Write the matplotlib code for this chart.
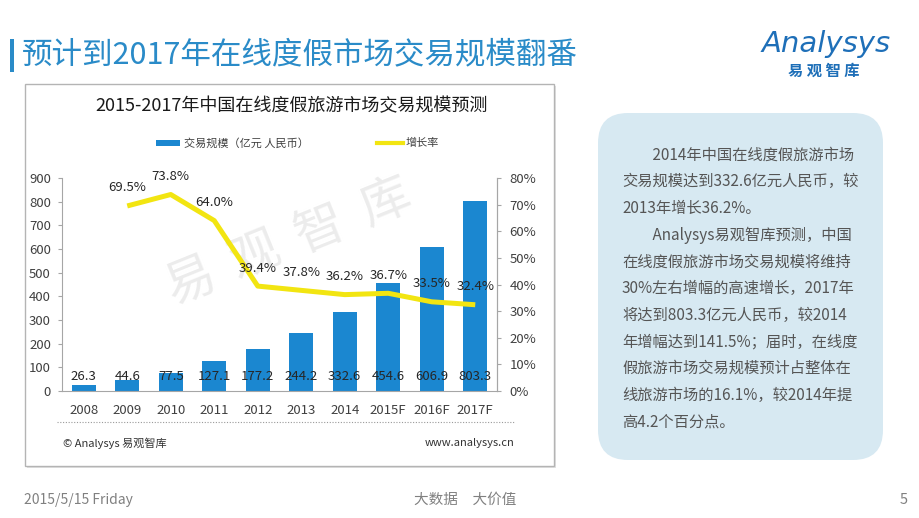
import matplotlib
matplotlib.use("Agg")
import matplotlib.pyplot as plt
from matplotlib.patches import Rectangle, FancyBboxPatch
from matplotlib.lines import Line2D

plt.rcParams['font.family'] = ['Noto Sans CJK SC', 'DejaVu Sans']

# ---------------- data ----------------
years = ['2008', '2009', '2010', '2011', '2012', '2013', '2014', '2015F', '2016F', '2017F']
scale = [26.3, 44.6, 77.5, 127.1, 177.2, 244.2, 332.6, 454.6, 606.9, 803.3]
growth_years = ['2009', '2010', '2011', '2012', '2013', '2014', '2015F', '2016F', '2017F']
growth = [69.5, 73.8, 64.0, 39.4, 37.8, 36.2, 36.7, 33.5, 32.4]
left_ticks = [0, 100, 200, 300, 400, 500, 600, 700, 800, 900]
right_ticks = [0, 10, 20, 30, 40, 50, 60, 70, 80]

page_title = '预计到2017年在线度假市场交易规模翻番'
chart_title = '2015-2017年中国在线度假旅游市场交易规模预测'
legend_bar = '交易规模（亿元 人民币）'
legend_line = '增长率'
source_left = '© Analysys 易观智库'
source_right = 'www.analysys.cn'
side_text = [
    '\u3000\u30002014年中国在线度假旅游市场',
    '交易规模达到332.6亿元人民币，较',
    '2013年增长36.2%。',
    '\u3000\u3000Analysys易观智库预测，中国',
    '在线度假旅游市场交易规模将维持',
    '30%左右增幅的高速增长，2017年',
    '将达到803.3亿元人民币，较2014',
    '年增幅达到141.5%；届时，在线度',
    '假旅游市场交易规模预计占整体在',
    '线旅游市场的16.1%，较2014年提',
    '高4.2个百分点。',
]
footer_date = '2015/5/15 Friday'
footer_mid = '大数据\u3000大价值'
page_no = '5'

BAR_C = '#1B87D0'
LINE_C = '#F2E511'
BLUE_T = '#2A8BC8'
TXT = '#404040'

W, H = 920, 518
fig = plt.figure(figsize=(W / 100, H / 100), dpi=100)
fig.patch.set_facecolor('white')

# background axes in pixel coordinates
bg = fig.add_axes([0, 0, 1, 1])
bg.set_xlim(0, W)
bg.set_ylim(H, 0)
bg.axis('off')

# page title
bg.add_patch(Rectangle((10, 39), 4, 33, color=BLUE_T, lw=0))
bg.text(22, 55, page_title, fontsize=22, color=BLUE_T, va='center', ha='left')

# logo
bg.text(826, 44, 'Analysys', fontsize=21, color='#1E6FB8', style='italic',
        ha='center', va='center', family=['DejaVu Sans'])
bg.text(824, 71, '易 观 智 库', fontsize=11, color='#1E6FB8', fontweight='bold',
        ha='center', va='center')

# chart frame with slight shadow
bg.add_patch(Rectangle((27, 86), 529, 382, facecolor='#e2e2e2', edgecolor='none', zorder=1))
bg.add_patch(Rectangle((25, 84), 529, 382, facecolor='white', edgecolor='#b4b4b4', lw=1, zorder=2))
bg.text(292, 106, chart_title, fontsize=13, color='#1a1a1a', ha='center', va='center', zorder=3)

# legend keys
bg.add_patch(Rectangle((156, 140), 24, 6, color=BAR_C, lw=0, zorder=3))
bg.text(184, 143, legend_bar, fontsize=8, color=TXT, va='center', ha='left', zorder=3)
bg.add_line(Line2D([377, 403], [143, 143], color=LINE_C, lw=3, zorder=3))
bg.text(406, 143, legend_line, fontsize=8, color=TXT, va='center', ha='left', zorder=3)

# watermark
for ch, (x, y) in zip('易观智库', [(190, 282), (255, 256), (320, 230), (386, 203)]):
    bg.text(x, y, ch, fontsize=36, color='#ececec', rotation=22, ha='center', va='center', zorder=3)

# dotted separator and sources
bg.add_line(Line2D([57, 514], [422, 422], color='#9a9a9a', lw=0.8, ls=(0, (1, 1.5)), zorder=3))
bg.text(63, 443, source_left, fontsize=8, color='#333333', va='center', ha='left', zorder=3)
bg.text(514, 443, source_right, fontsize=8, color='#333333', va='center', ha='right', zorder=3)

# side text box
bg.add_patch(FancyBboxPatch((598 + 30, 113 + 30), 285 - 60, 347 - 60,
                            boxstyle='round,pad=30', facecolor='#D7E9F2',
                            edgecolor='none', zorder=1))
for i, line in enumerate(side_text):
    bg.text(622, 155 + i * 26.7, line, fontsize=11, color='#555555', va='center', ha='left', zorder=3)

# footer
bg.text(24, 500, footer_date, fontsize=10, color='#808080', va='center', ha='left')
bg.text(465, 500, footer_mid, fontsize=10.5, color='#808080', va='center', ha='center')
bg.text(904, 500, page_no, fontsize=10.5, color='#808080', va='center', ha='center')

# ---------------- chart ----------------
ax = fig.add_axes([62 / W, (H - 391) / H, (497 - 62) / W, (391 - 178) / H])
ax.patch.set_alpha(0)
x = list(range(len(years)))
ax.bar(x, scale, width=0.55, color=BAR_C, zorder=2)
ax.set_xlim(-0.5, len(years) - 0.5)
ax.set_ylim(0, 900)
ax.set_yticks(left_ticks)
ax.set_xticks(x)
ax.set_xticklabels(years)
for v, xi in zip(scale, x):
    ax.text(xi, 62, f'{v:.1f}', ha='center', va='center', fontsize=9.5, color='#262626', zorder=5)

for s in ['top']:
    ax.spines[s].set_visible(False)
for s in ['left', 'bottom', 'right']:
    ax.spines[s].set_color('#a6a6a6')
    ax.spines[s].set_linewidth(0.8)
ax.tick_params(axis='y', direction='out', length=3, width=0.8, color='#a6a6a6',
               labelsize=9.5, labelcolor=TXT, pad=5)
ax.tick_params(axis='x', length=0, labelsize=9.5, labelcolor=TXT, pad=9)

ax2 = ax.twinx()
ax2.set_ylim(0, 80)
ax2.set_yticks(right_ticks)
ax2.set_yticklabels([f'{t}%' for t in right_ticks])
for s in ['top', 'left', 'bottom']:
    ax2.spines[s].set_visible(False)
ax2.spines['right'].set_color('#a6a6a6')
ax2.spines['right'].set_linewidth(0.8)
ax2.tick_params(axis='y', direction='out', length=3, width=0.8, color='#a6a6a6',
                labelsize=9.5, labelcolor=TXT, pad=6)

gx = [years.index(g) for g in growth_years]
ax2.plot(gx, growth, color=LINE_C, lw=3.6, solid_joinstyle='round', solid_capstyle='butt', zorder=3)
for xi, v in zip(gx, growth):
    ax2.annotate(f'{v:.1f}%', (xi, v), xytext=(0, 13), textcoords='offset points',
                 ha='center', va='center', fontsize=9.5, color='#262626', zorder=5)

fig.savefig('out.png', dpi=100, facecolor='white')
